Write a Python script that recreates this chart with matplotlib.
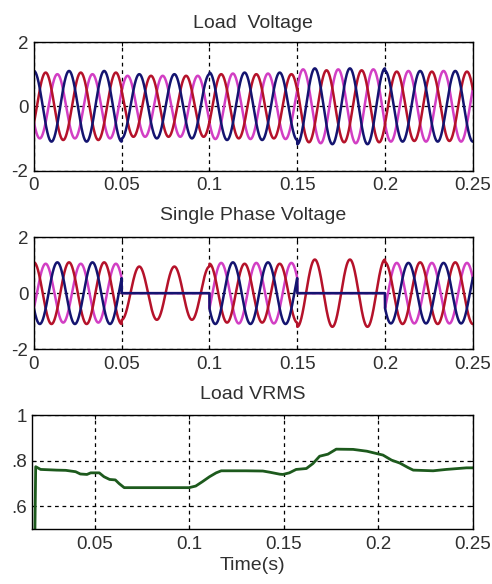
import numpy as np
import matplotlib
matplotlib.use("Agg")
import matplotlib.pyplot as plt

plt.rcParams['font.family'] = ['Liberation Sans', 'DejaVu Sans']
plt.rcParams['axes.unicode_minus'] = False

# --- Waveform parameters ---
freq = 50.0                       # Hz
seg_edges = [0.0, 0.05, 0.10, 0.15, 0.20, 0.25]

# Load voltage: phase angle (deg) and peak per 0.05 s segment
load_phase = {"red": -120, "magenta": -240, "blue": 0}
load_amp = {
    "red":     [1.05, 0.95, 1.00, 1.12, 1.08],
    "magenta": [1.00, 0.95, 1.02, 1.15, 1.10],
    "blue":    [1.10, 1.00, 1.05, 1.18, 1.10],
}

# Single phase voltage: red alone during the faults
single_phase = {"red": 0, "magenta": -120, "blue": -240}
single_amp = {
    "red":     [1.10, 0.95, 1.05, 1.20, 1.10],
    "magenta": [1.05, 0.00, 1.08, 0.00, 1.08],
    "blue":    [1.10, 0.00, 1.10, 0.00, 1.08],
}

# Load VRMS trace (time, value)
vrms_t = [0.0185, 0.0189, 0.0215, 0.030, 0.0348, 0.040, 0.0425, 0.046, 0.048,
          0.0525, 0.055, 0.058, 0.061, 0.063, 0.0657, 0.080, 0.100, 0.1035,
          0.107, 0.1108, 0.1143, 0.117, 0.130, 0.139, 0.1425, 0.148, 0.1496,
          0.153, 0.1566, 0.162, 0.1655, 0.169, 0.1734, 0.1778, 0.1867, 0.194,
          0.199, 0.2025, 0.207, 0.2114, 0.2158, 0.2185, 0.229, 0.236, 0.2467, 0.25]
vrms_v = [0.50, 0.774, 0.762, 0.759, 0.758, 0.752, 0.742, 0.740, 0.747,
          0.747, 0.730, 0.718, 0.716, 0.700, 0.682, 0.682, 0.682, 0.689,
          0.708, 0.730, 0.747, 0.756, 0.756, 0.755, 0.750, 0.741, 0.740,
          0.747, 0.762, 0.766, 0.788, 0.820, 0.829, 0.851, 0.850, 0.842,
          0.832, 0.825, 0.803, 0.790, 0.770, 0.759, 0.756, 0.762, 0.769, 0.769]

colors = {"red": "#b5122a", "magenta": "#d23fc4", "blue": "#141470"}
text_col = "#303030"

t = np.linspace(0, 0.25, 5001)
seg_idx = np.clip(np.searchsorted(seg_edges, t, side="right") - 1, 0, 4)


def phase_wave(amps, deg):
    a = np.array(amps)[seg_idx]
    return a * np.cos(2 * np.pi * freq * t + np.radians(deg))


fig = plt.figure(figsize=(4.92, 5.84), dpi=100)
ax1 = fig.add_axes([0.069, 0.708, 0.892, 0.220])
ax2 = fig.add_axes([0.069, 0.402, 0.892, 0.192])
ax3 = fig.add_axes([0.066, 0.094, 0.895, 0.195])

fs = 13.5
tfs = 14

for name in ["magenta", "red", "blue"]:
    ax1.plot(t, phase_wave(load_amp[name], load_phase[name]),
             color=colors[name], lw=1.8)
for name in ["magenta", "red", "blue"]:
    ax2.plot(t, phase_wave(single_amp[name], single_phase[name]),
             color=colors[name], lw=1.8)

for ax, title, tpad in [(ax1, "Load  Voltage", 10), (ax2, "Single Phase Voltage", 12)]:
    ax.set_xlim(0, 0.25)
    ax.set_ylim(-2, 2)
    ax.set_yticks([-2, 0, 2])
    ax.set_xticks([0, 0.05, 0.1, 0.15, 0.2, 0.25])
    ax.set_xticklabels(["0", "0.05", "0.1", "0.15", "0.2", "0.25"])
    ax.set_title(title, fontsize=tfs, pad=tpad, color=text_col)

ax3.plot(vrms_t, vrms_v, color="#1d5a1d", lw=2)
ax3.set_xlim(0.0172, 0.25)
ax3.set_ylim(0.5, 1.0)
ax3.set_yticks([0.6, 0.8, 1.0])
ax3.set_yticklabels([".6", ".8", "1"])
ax3.set_xticks([0.05, 0.1, 0.15, 0.2, 0.25])
ax3.set_xticklabels(["0.05", "0.1", "0.15", "0.2", "0.25"])
ax3.set_title("Load VRMS", fontsize=tfs, pad=12, color=text_col)
ax3.set_xlabel("Time(s)", fontsize=tfs, labelpad=2.5, color=text_col)

for ax in (ax1, ax2, ax3):
    ax.grid(True, color="black", linestyle=(0, (3, 3)), lw=0.9)
    ax.tick_params(direction="in", length=3, labelsize=fs, top=True, right=True,
                   labelcolor=text_col)
    ax.tick_params(axis="x", pad=5)
    ax.tick_params(axis="y", pad=4)
    for s in ax.spines.values():
        s.set_linewidth(1.0)

fig.savefig("out.png", dpi=100)
